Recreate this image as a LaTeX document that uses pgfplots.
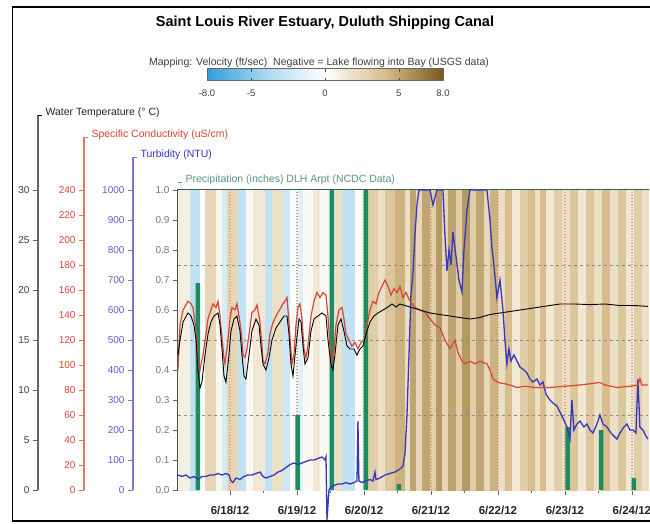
\documentclass[border=0pt]{standalone}
\usepackage{pgfplots}
\pgfplotsset{compat=1.18}
\usepgfplotslibrary{patchplots}
\usepackage{pgfplotstable}
\usepackage{fontspec}
\setmainfont{Liberation Sans}
\definecolor{precip}{RGB}{30,140,95}
\definecolor{condred}{RGB}{215,70,50}
\definecolor{turbblue}{RGB}{55,55,190}
\definecolor{condaxis}{RGB}{225,120,95}
\definecolor{turbaxis}{RGB}{120,120,205}
\definecolor{gridtan}{RGB}{215,160,115}
\definecolor{labgray}{RGB}{120,120,120}
\definecolor{preciplab}{RGB}{90,150,130}
\definecolor{spine}{RGB}{60,90,80}
\pgfplotsset{colormap={vel}{rgb255=(45,158,220) rgb255=(172,216,240) rgb255=(255,255,255) rgb255=(215,190,140) rgb255=(120,90,30)}}

\pgfplotstableread{
d p
0.52 0.69
2.01 0.25
2.52 1.0
3.03 1.0
3.52 0.02
6.04 0.21
6.54 0.20
7.03 0.04
}\preciptab

\pgfplotstableread{
d c
0.224 96
0.254 132
0.299 144
0.373 151
0.418 149
0.448 146
0.478 134
0.507 122
0.522 98
0.552 96
0.597 108
0.642 125
0.672 137
0.716 144
0.746 149
0.791 146
0.821 151
0.851 139
0.881 122
0.910 106
0.925 101
0.970 120
1.0 137
1.030 146
1.075 144
1.104 149
1.134 139
1.149 134
1.179 120
1.194 108
1.224 106
1.254 113
1.299 130
1.328 142
1.373 144
1.403 148
1.433 139
1.448 134
1.478 115
1.493 103
1.522 101
1.567 110
1.597 125
1.642 134
1.687 139
1.716 142
1.761 146
1.791 149
1.821 151
1.851 154
1.881 134
1.896 122
1.925 101
1.955 108
1.985 132
2.015 146
2.045 149
2.075 137
2.104 113
2.134 106
2.164 115
2.209 139
2.254 151
2.299 158
2.343 154
2.388 158
2.433 156
2.463 139
2.493 115
2.522 103
2.552 110
2.582 132
2.627 144
2.672 146
2.701 137
2.731 125
2.776 120
2.821 115
2.866 118
2.910 113
2.955 118
3.0 120
3.045 132
3.090 144
3.134 151
3.179 149
3.224 158
3.269 163
3.313 168
3.358 163
3.403 156
3.448 161
3.493 158
3.537 163
3.582 154
3.627 158
3.687 151
3.761 146
3.836 144
3.910 142
3.985 137
4.060 132
4.134 130
4.209 120
4.284 113
4.358 120
4.403 110
4.463 103
4.507 101
4.582 103
4.657 101
4.731 103
4.836 101
4.881 96
4.925 89
5.0 86
5.104 85
5.179 84
5.284 82
5.403 83
5.552 82
5.776 82
6.0 83
6.224 84
6.373 85
6.522 86
6.597 84
6.776 82
6.970 83
7.090 84
7.119 89
7.149 84
7.239 84
}\condtab

\pgfplotstableread{
d t
0.224 13.5
0.254 15
0.299 16.8
0.373 17.7
0.418 17.4
0.463 16.5
0.493 15
0.522 12
0.552 10.2
0.582 10.8
0.627 13.5
0.672 15.6
0.716 16.8
0.761 17.4
0.821 17.7
0.851 16.5
0.881 14.1
0.910 11.4
0.940 10.8
0.985 13.5
1.015 15.9
1.060 17.1
1.104 17.4
1.149 15.9
1.179 13.5
1.209 11.4
1.239 11.1
1.284 13.5
1.328 15.9
1.388 17.1
1.433 16.5
1.463 14.4
1.493 12.6
1.537 12
1.582 13.2
1.627 15
1.687 16.2
1.746 16.8
1.806 17.4
1.851 17.4
1.881 15.6
1.910 12.6
1.940 11.4
1.985 14.4
2.030 17.1
2.060 16.8
2.090 14.4
2.119 12.6
2.164 13.2
2.209 15.9
2.254 17.1
2.313 17.4
2.373 17.7
2.433 17.4
2.463 15
2.507 12.6
2.537 12
2.567 13.5
2.612 16.5
2.657 17.1
2.701 15.9
2.746 14.4
2.791 14.1
2.851 14.1
2.896 13.5
2.940 14.1
2.985 14.4
3.030 15.6
3.090 16.8
3.149 17.4
3.209 17.7
3.284 18
3.358 18.3
3.418 18.6
3.478 18.3
3.537 18.6
3.612 18.45
3.687 18.3
3.836 18
3.985 17.7
4.134 17.55
4.284 17.4
4.433 17.25
4.582 17.1
4.731 17.25
4.881 17.55
5.030 17.7
5.179 17.85
5.328 18
5.478 18.15
5.627 18.3
5.776 18.45
5.925 18.6
6.149 18.6
6.373 18.54
6.597 18.6
6.821 18.45
7.045 18.45
7.239 18.36
}\temptab

\pgfplotstableread{
d n
0.224 50
0.284 45
0.343 50
0.403 40
0.463 45
0.522 35
0.582 45
0.642 45
0.701 50
0.761 50
0.821 55
0.881 50
0.940 55
0.985 50
1.015 30
1.045 25
1.090 40
1.149 35
1.209 45
1.269 50
1.328 50
1.388 55
1.448 60
1.493 45
1.537 40
1.597 45
1.657 50
1.716 60
1.776 65
1.836 75
1.896 85
1.955 90
2.015 85
2.075 90
2.134 95
2.194 100
2.254 100
2.313 105
2.373 110
2.418 100
2.433 110
2.448 -100
2.478 0
2.507 10
2.552 15
2.612 20
2.672 20
2.731 25
2.791 20
2.851 25
2.896 30
2.910 230
2.925 30
2.970 25
3.030 30
3.090 35
3.134 30
3.164 60
3.179 35
3.239 40
3.313 50
3.388 55
3.463 60
3.537 70
3.582 80
3.612 120
3.642 250
3.672 450
3.701 650
3.731 720
3.761 850
3.791 950
3.821 1000
3.910 1000
3.985 1000
4.030 950
4.090 1000
4.179 1000
4.209 850
4.239 730
4.269 800
4.299 750
4.328 860
4.373 780
4.418 700
4.463 660
4.493 800
4.537 930
4.582 1000
4.731 1000
4.836 1000
4.881 900
4.910 810
4.940 750
4.985 640
5.030 700
5.075 600
5.104 500
5.134 420
5.164 470
5.194 430
5.239 450
5.284 430
5.328 410
5.388 400
5.433 390
5.478 370
5.522 360
5.582 370
5.627 350
5.672 360
5.716 320
5.776 300
5.821 290
5.881 280
5.925 260
5.970 240
6.030 210
6.075 170
6.104 300
6.134 200
6.179 220
6.224 230
6.284 210
6.328 220
6.373 200
6.418 190
6.478 220
6.522 250
6.567 220
6.627 210
6.687 190
6.731 180
6.776 170
6.821 190
6.881 210
6.925 220
6.970 200
7.015 200
7.060 190
7.090 370
7.119 210
7.164 200
7.209 180
7.239 170
}\turbtab

\begin{document}
\begin{tikzpicture}[x=1pt,y=1pt]
\useasboundingbox (0,0) rectangle (650,-523);
\fill[white] (0,0) rectangle (650,-523);
\coordinate (cbpos) at (207,-72);

% Title and subtitle
\node[font=\bfseries\fontsize{14.5}{16}\selectfont] at (325,-23) {Saint Louis River Estuary, Duluth Shipping Canal};
\node[font=\fontsize{10.5}{12}\selectfont, text=black!75] at (319,-63) {Mapping: Velocity (ft/sec)\ \ Negative = Lake flowing into Bay (USGS data)};

% Main axis
\begin{axis}[name=main, at={(178pt,-490pt)}, anchor=south west, scale only axis,
  width=470pt, height=300pt,
  xmin=0.224, xmax=7.24, ymin=0, ymax=1, clip=false,
  colormap name=vel, point meta min=-8, point meta max=8,
  xtick={1,2,3,4,5,6,7},
  xticklabels={6/18/12,6/19/12,6/20/12,6/21/12,6/22/12,6/23/12,6/24/12},
  minor x tick num=1,
  ytick={0,0.1,0.2,0.3,0.4,0.5,0.6,0.7,0.8,0.9,1},
  yticklabel style={font=\fontsize{10}{12}\selectfont, text=labgray,
    /pgf/number format/fixed, /pgf/number format/fixed zerofill,
    /pgf/number format/precision=1, /pgf/number format/assume math mode=true},
  xticklabel style={font=\bfseries\fontsize{11.5}{13}\selectfont, text=black!85, yshift=-8pt},
  tick align=outside, xtick pos=bottom, ytick pos=left,
  major tick length=5pt, minor tick length=3pt,
  tick style={draw=black!60, line width=0.8pt},
  axis line style={draw=spine, line width=1.1pt},
  colorbar horizontal,
  colorbar style={at={(cbpos)}, anchor=south west, scale only axis,
    width=236pt, height=12pt,
    xtick={-8,-5,0,5,8}, xticklabels={-8.0,-5,0,5,8.0},
    xticklabel style={font=\fontsize{9.5}{11}\selectfont, text=black!75, yshift=-6pt},
    xtick align=inside, major tick length=3pt,
    tick style={draw=black!70},
    axis line style={draw=black!60, line width=0.8pt}},
]
% velocity stripes (ft/s), one rectangle per interval, days after 6/17/12 00:00
\addplot[patch, patch type=rectangle, shader=flat, point meta=explicit] coordinates {
(0.224,0)[1] (0.403,0)[1] (0.403,1)[1] (0.224,1)[1]
(0.403,0)[-3] (0.552,0)[-3] (0.552,1)[-3] (0.403,1)[-3]
(0.552,0)[0] (0.627,0)[0] (0.627,1)[0] (0.552,1)[0]
(0.627,0)[2.5] (0.791,0)[2.5] (0.791,1)[2.5] (0.627,1)[2.5]
(0.791,0)[0.5] (0.881,0)[0.5] (0.881,1)[0.5] (0.791,1)[0.5]
(0.881,0)[-2] (0.955,0)[-2] (0.955,1)[-2] (0.881,1)[-2]
(0.955,0)[2.5] (1.119,0)[2.5] (1.119,1)[2.5] (0.955,1)[2.5]
(1.119,0)[-3] (1.239,0)[-3] (1.239,1)[-3] (1.119,1)[-3]
(1.239,0)[0.5] (1.343,0)[0.5] (1.343,1)[0.5] (1.239,1)[0.5]
(1.343,0)[1.5] (1.522,0)[1.5] (1.522,1)[1.5] (1.343,1)[1.5]
(1.522,0)[-3] (1.627,0)[-3] (1.627,1)[-3] (1.522,1)[-3]
(1.627,0)[2] (1.791,0)[2] (1.791,1)[2] (1.627,1)[2]
(1.791,0)[-2.5] (1.896,0)[-2.5] (1.896,1)[-2.5] (1.791,1)[-2.5]
(1.896,0)[0.3] (2.0,0)[0.3] (2.0,1)[0.3] (1.896,1)[0.3]
(2.0,0)[-1.5] (2.090,0)[-1.5] (2.090,1)[-1.5] (2.0,1)[-1.5]
(2.090,0)[0.3] (2.239,0)[0.3] (2.239,1)[0.3] (2.090,1)[0.3]
(2.239,0)[1.5] (2.343,0)[1.5] (2.343,1)[1.5] (2.239,1)[1.5]
(2.343,0)[0.3] (2.463,0)[0.3] (2.463,1)[0.3] (2.343,1)[0.3]
(2.463,0)[-1] (2.567,0)[-1] (2.567,1)[-1] (2.463,1)[-1]
(2.567,0)[2] (2.672,0)[2] (2.672,1)[2] (2.567,1)[2]
(2.672,0)[-3] (2.866,0)[-3] (2.866,1)[-3] (2.672,1)[-3]
(2.866,0)[0.2] (2.970,0)[0.2] (2.970,1)[0.2] (2.866,1)[0.2]
(2.970,0)[-1] (3.060,0)[-1] (3.060,1)[-1] (2.970,1)[-1]
(3.060,0)[3] (3.209,0)[3] (3.209,1)[3] (3.060,1)[3]
(3.209,0)[2] (3.313,0)[2] (3.313,1)[2] (3.209,1)[2]
(3.313,0)[3.5] (3.463,0)[3.5] (3.463,1)[3.5] (3.313,1)[3.5]
(3.463,0)[4.5] (3.612,0)[4.5] (3.612,1)[4.5] (3.463,1)[4.5]
(3.612,0)[2] (3.687,0)[2] (3.687,1)[2] (3.612,1)[2]
(3.687,0)[5] (3.776,0)[5] (3.776,1)[5] (3.687,1)[5]
(3.776,0)[2.5] (3.866,0)[2.5] (3.866,1)[2.5] (3.776,1)[2.5]
(3.866,0)[5] (3.985,0)[5] (3.985,1)[5] (3.866,1)[5]
(3.985,0)[3] (4.075,0)[3] (4.075,1)[3] (3.985,1)[3]
(4.075,0)[5.5] (4.164,0)[5.5] (4.164,1)[5.5] (4.075,1)[5.5]
(4.164,0)[2.5] (4.254,0)[2.5] (4.254,1)[2.5] (4.164,1)[2.5]
(4.254,0)[5] (4.373,0)[5] (4.373,1)[5] (4.254,1)[5]
(4.373,0)[3] (4.463,0)[3] (4.463,1)[3] (4.373,1)[3]
(4.463,0)[5.5] (4.582,0)[5.5] (4.582,1)[5.5] (4.463,1)[5.5]
(4.582,0)[3] (4.672,0)[3] (4.672,1)[3] (4.582,1)[3]
(4.672,0)[5] (4.791,0)[5] (4.791,1)[5] (4.672,1)[5]
(4.791,0)[2.5] (4.881,0)[2.5] (4.881,1)[2.5] (4.791,1)[2.5]
(4.881,0)[4.5] (5.0,0)[4.5] (5.0,1)[4.5] (4.881,1)[4.5]
(5.0,0)[2] (5.104,0)[2] (5.104,1)[2] (5.0,1)[2]
(5.104,0)[4] (5.209,0)[4] (5.209,1)[4] (5.104,1)[4]
(5.209,0)[1.5] (5.328,0)[1.5] (5.328,1)[1.5] (5.209,1)[1.5]
(5.328,0)[3] (5.448,0)[3] (5.448,1)[3] (5.328,1)[3]
(5.448,0)[4] (5.552,0)[4] (5.552,1)[4] (5.448,1)[4]
(5.552,0)[2] (5.627,0)[2] (5.627,1)[2] (5.552,1)[2]
(5.627,0)[4] (5.716,0)[4] (5.716,1)[4] (5.627,1)[4]
(5.716,0)[1.5] (5.836,0)[1.5] (5.836,1)[1.5] (5.716,1)[1.5]
(5.836,0)[3] (5.955,0)[3] (5.955,1)[3] (5.836,1)[3]
(5.955,0)[2] (6.075,0)[2] (6.075,1)[2] (5.955,1)[2]
(6.075,0)[3.5] (6.194,0)[3.5] (6.194,1)[3.5] (6.075,1)[3.5]
(6.194,0)[1.5] (6.313,0)[1.5] (6.313,1)[1.5] (6.194,1)[1.5]
(6.313,0)[3.5] (6.433,0)[3.5] (6.433,1)[3.5] (6.313,1)[3.5]
(6.433,0)[2] (6.552,0)[2] (6.552,1)[2] (6.433,1)[2]
(6.552,0)[4] (6.672,0)[4] (6.672,1)[4] (6.552,1)[4]
(6.672,0)[2] (6.791,0)[2] (6.791,1)[2] (6.672,1)[2]
(6.791,0)[3.5] (6.910,0)[3.5] (6.910,1)[3.5] (6.791,1)[3.5]
(6.910,0)[1.5] (7.030,0)[1.5] (7.030,1)[1.5] (6.910,1)[1.5]
(7.030,0)[3] (7.149,0)[3] (7.149,1)[3] (7.030,1)[3]
(7.149,0)[2] (7.24,0)[2] (7.24,1)[2] (7.149,1)[2]
};
% daily dotted grid
\addplot[gridtan, line width=1.6pt, dash pattern=on 1.5pt off 1.5pt, unbounded coords=jump]
  coordinates {(1,0)(1,1)(1,nan)(2,0)(2,1)(2,nan)(3,0)(3,1)(3,nan)(4,0)(4,1)(4,nan)(5,0)(5,1)(5,nan)(6,0)(6,1)(6,nan)(7,0)(7,1)};
% horizontal dashed grid
\addplot[black!45, dashed, line width=0.5pt, unbounded coords=jump]
  coordinates {(0.224,0.25)(7.24,0.25)(7.24,nan)(0.224,0.5)(7.24,0.5)(7.24,nan)(0.224,0.75)(7.24,0.75)};
% precipitation
\addplot[ybar, bar width=4.5pt, fill=precip, draw=none] table[x=d, y=p] {\preciptab};
% turbidity (NTU / 1000)
\addplot[turbblue, line width=1.3pt] table[x=d, y expr=\thisrow{n}/1000] {\turbtab};
% specific conductivity (uS/cm / 240)
\addplot[condred, line width=1.2pt] table[x=d, y expr=\thisrow{c}/240] {\condtab};
% water temperature (C / 30)
\addplot[black, line width=0.9pt] table[x=d, y expr=\thisrow{t}/30] {\temptab};
\end{axis}

% Water temperature axis
\begin{axis}[at={(38pt,-490pt)}, anchor=south west, scale only axis, width=10pt, height=375pt,
  hide x axis, axis y line*=left, xmin=0, xmax=1, ymin=0, ymax=37.5,
  ytick={0,5,10,15,20,25,30},
  yticklabel style={font=\fontsize{10}{12}\selectfont, text=black!75, /pgf/number format/assume math mode=true},
  tick align=outside, major tick length=5pt,
  tick style={draw=black!60, line width=0.8pt},
  axis line style={draw=black!60, line width=1.3pt}]
\addplot[draw=none] coordinates {(0,0)};
\end{axis}
% Specific conductivity axis
\begin{axis}[at={(84pt,-490pt)}, anchor=south west, scale only axis, width=10pt, height=353pt,
  hide x axis, axis y line*=left, xmin=0, xmax=1, ymin=0, ymax=282.4,
  ytick={0,20,40,60,80,100,120,140,160,180,200,220,240},
  yticklabel style={font=\fontsize{10}{12}\selectfont, text=condred, /pgf/number format/assume math mode=true},
  tick align=outside, major tick length=5pt,
  tick style={draw=condaxis, line width=0.8pt},
  axis line style={draw=condaxis, line width=1.3pt}]
\addplot[draw=none] coordinates {(0,0)};
\end{axis}
% Turbidity axis
\begin{axis}[at={(133pt,-490pt)}, anchor=south west, scale only axis, width=10pt, height=333pt,
  hide x axis, axis y line*=left, xmin=0, xmax=1, ymin=0, ymax=1110,
  ytick={0,100,200,300,400,500,600,700,800,900,1000},
  yticklabel style={font=\fontsize{10}{12}\selectfont, text=turbblue!80, /pgf/number format/assume math mode=true, /pgf/number format/1000 sep={}},
  tick align=outside, major tick length=5pt,
  tick style={draw=turbaxis, line width=0.8pt},
  axis line style={draw=turbaxis, line width=1.3pt}]
\addplot[draw=none] coordinates {(0,0)};
\end{axis}

% axis titles
\draw[black, line width=1.3pt] (38,-115.5) -- (42,-115.5);
\node[anchor=west, font=\fontsize{10.5}{12}\selectfont, text=black!85] at (42,-113) {Water Temperature (° C)};
\draw[condaxis, line width=1.3pt] (84,-137.5) -- (88,-137.5);
\node[anchor=west, font=\fontsize{10.5}{12}\selectfont, text=condred] at (88,-135) {Specific Conductivity (uS/cm)};
\draw[turbaxis, line width=1.3pt] (133,-157.5) -- (137,-157.5);
\node[anchor=west, font=\fontsize{10.5}{12}\selectfont, text=turbblue] at (137,-155) {Turbidity (NTU)};
\draw[preciplab, line width=1.3pt] (178,-182.5) -- (182,-182.5);
\node[anchor=west, font=\fontsize{10.5}{12}\selectfont, text=preciplab] at (182,-180) {Precipitation (inches) DLH Arpt (NCDC Data)};

% frame
\draw[black, line width=1.8pt] (650,-7) -- (12.5,-7) -- (12.5,-521) -- (650,-521);
\end{tikzpicture}
\end{document}
